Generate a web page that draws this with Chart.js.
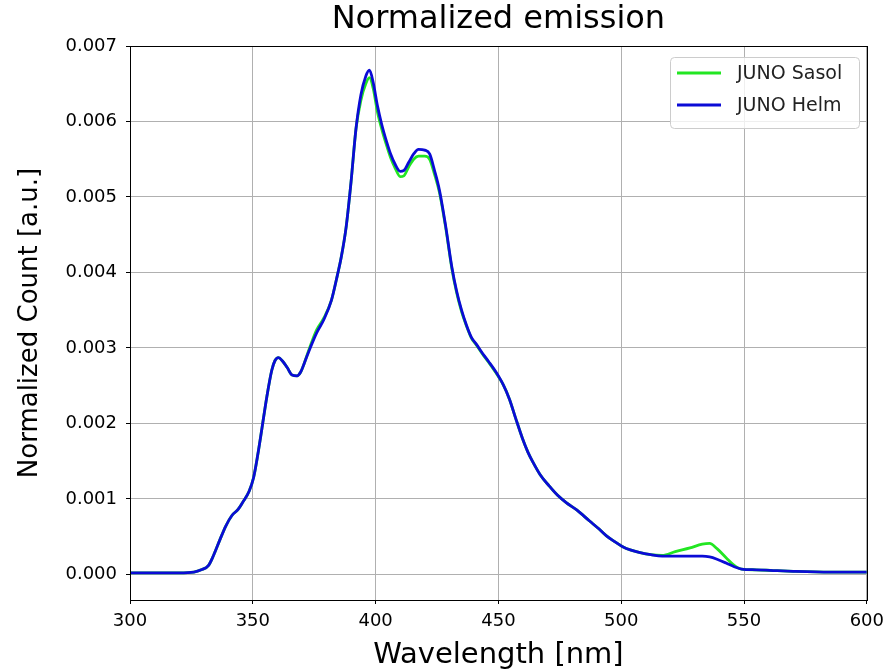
<!DOCTYPE html>
<html>
<head>
<meta charset="utf-8">
<script src="https://cdn.jsdelivr.net/npm/chart.js@4"></script>
<style>
  body { margin: 0; background: #fff; }
  #wrap { width: 891px; height: 670px; }
</style>
</head>
<body>
<div id="wrap"><canvas id="emissionChart" width="891" height="670"></canvas></div>
<script>
// wavelength in nm
const wavelength = [
  300, 310, 320, 326, 329, 332, 334, 336.5, 339, 341.5,
  344, 346, 348.5, 350.3, 352, 353.7, 355.7, 357.7, 359, 360.5,
  362, 364, 366, 368, 369.5, 371, 373, 376, 379, 382,
  384, 386, 388, 390, 392, 394, 396, 397.5, 399, 400.8,
  402.5, 404.5, 406, 408, 410, 411.5, 413.5, 415.5, 417.5, 420,
  422, 424, 426, 428.5, 431, 433, 435, 437, 439, 441,
  443.5, 446, 449, 452, 454.5, 457, 459.8, 462, 464, 467,
  470.7, 474, 477.6, 482, 487, 491, 494, 497, 500.4, 504,
  507.3, 512, 516.7, 522, 528, 533, 536, 539, 542.7, 546,
  549, 555, 562, 570, 585, 600
];

const sasol = [
  0.00002, 0.00002, 0.00002, 0.00003, 0.00006, 0.00012, 0.00025, 0.00045, 0.00064, 0.00078,
  0.00086, 0.00096, 0.0011, 0.00128, 0.00158, 0.00193, 0.00235, 0.0027, 0.00283, 0.00287,
  0.00283, 0.00274, 0.00264, 0.00263, 0.00268, 0.0028, 0.00299, 0.00324, 0.0034, 0.00363,
  0.0039, 0.0042, 0.0046, 0.0052, 0.0059, 0.00628, 0.0065, 0.00658, 0.00644, 0.00612,
  0.0059, 0.00568, 0.00553, 0.00538, 0.00527, 0.00528, 0.0054, 0.0055, 0.00554, 0.00554,
  0.0055, 0.0053, 0.00506, 0.0046, 0.00406, 0.00373, 0.00348, 0.00329, 0.00313, 0.00304,
  0.00292, 0.00281, 0.00267, 0.00251, 0.00232, 0.00207, 0.0018, 0.00162, 0.00149, 0.00132,
  0.00117, 0.00105, 0.00095, 0.00085, 0.00071, 0.0006, 0.00051, 0.00044, 0.00037, 0.00032,
  0.00029, 0.00026, 0.00025, 0.0003, 0.00035, 0.0004, 0.00041, 0.00034, 0.00022, 0.00012,
  0.00007, 0.00006, 0.00005, 0.00004, 0.00003, 0.00003
];

const helm = [
  0.00002, 0.00002, 0.00002, 0.00003, 0.00006, 0.00012, 0.00025, 0.00045, 0.00064, 0.00078,
  0.00086, 0.00096, 0.0011, 0.00128, 0.00158, 0.00193, 0.00235, 0.0027, 0.00283, 0.00287,
  0.00283, 0.00274, 0.00264, 0.00263, 0.00268, 0.0028, 0.00297, 0.0032, 0.00338, 0.00363,
  0.0039, 0.0042, 0.0046, 0.0052, 0.0059, 0.00635, 0.0066, 0.00668, 0.00652, 0.0062,
  0.00596, 0.00573, 0.00558, 0.00543, 0.00534, 0.00535, 0.00546, 0.00557, 0.00563, 0.00562,
  0.00557, 0.00535, 0.00509, 0.00462, 0.00408, 0.00375, 0.0035, 0.0033, 0.00314, 0.00305,
  0.00293, 0.00282, 0.00268, 0.00251, 0.00232, 0.00207, 0.0018, 0.00162, 0.00149, 0.00132,
  0.00117, 0.00105, 0.00095, 0.00085, 0.00071, 0.0006, 0.00051, 0.00044, 0.00037, 0.00032,
  0.00029, 0.00026, 0.00024, 0.00024, 0.00024, 0.00024, 0.00023, 0.0002, 0.00015, 0.0001,
  0.00007, 0.00006, 0.00005, 0.00004, 0.00003, 0.00003
];

const xTicks = [300, 350, 400, 450, 500, 550, 600];
const yTicks = [0, 0.001, 0.002, 0.003, 0.004, 0.005, 0.006, 0.007];

const chartTitle = "Normalized emission";
const seriesNames = ["JUNO Sasol", "JUNO Helm"];
const seriesColors = ["#22e622", "#0b0bd6"];

const FONT = "'DejaVu Sans', sans-serif";

const toPoints = ys => wavelength.map((x, i) => ({ x: x, y: ys[i] }));

// title over plot area, frame on all four sides, matplotlib style legend box
const framePlugin = {
  id: "frame",
  afterDraw(chart) {
    const { ctx, chartArea: a } = chart;
    ctx.save();
    ctx.strokeStyle = "#000";
    ctx.lineWidth = 1;
    ctx.strokeRect(Math.round(a.left) + 0.5, Math.round(a.top) + 0.5,
      Math.round(a.right - a.left), Math.round(a.bottom - a.top));

    ctx.fillStyle = "#000";
    ctx.font = "32px " + FONT;
    ctx.textAlign = "center";
    ctx.textBaseline = "middle";
    ctx.fillText(chartTitle, (a.left + a.right) / 2, 20);

    // legend
    const bx = 670, by = 57, bw = 189, bh = 71, r = 4;
    ctx.globalAlpha = 0.8;
    ctx.fillStyle = "#fff";
    ctx.beginPath();
    ctx.roundRect(bx + 0.5, by + 0.5, bw, bh, r);
    ctx.fill();
    ctx.globalAlpha = 1;
    ctx.strokeStyle = "#cccccc";
    ctx.stroke();

    ctx.font = "19px " + FONT;
    ctx.textAlign = "left";
    seriesNames.forEach((name, i) => {
      const y = by + 16 + i * 32;
      ctx.strokeStyle = seriesColors[i];
      ctx.lineWidth = 3;
      ctx.beginPath();
      ctx.moveTo(bx + 7, y);
      ctx.lineTo(bx + 51, y);
      ctx.stroke();
      ctx.fillStyle = "#222";
      ctx.fillText(name, bx + 67, y + 1);
    });
    ctx.restore();
  }
};

document.addEventListener("DOMContentLoaded", () => {
  const ctx = document.getElementById("emissionChart").getContext("2d");
  new Chart(ctx, {
    type: "line",
    data: {
      datasets: [
        {
          label: seriesNames[0],
          data: toPoints(sasol),
          borderColor: seriesColors[0],
          borderWidth: 2.8,
          pointRadius: 0,
          cubicInterpolationMode: "monotone",
          order: 1
        },
        {
          label: seriesNames[1],
          data: toPoints(helm),
          borderColor: seriesColors[1],
          borderWidth: 2.8,
          pointRadius: 0,
          cubicInterpolationMode: "monotone",
          order: 0
        }
      ]
    },
    options: {
      responsive: false,
      animation: false,
      layout: { padding: { left: 0, right: 23, top: 46, bottom: 0 } },
      plugins: {
        legend: { display: false },
        tooltip: { enabled: false },
        title: { display: false }
      },
      scales: {
        x: {
          type: "linear",
          min: 300,
          max: 600,
          afterBuildTicks: axis => { axis.ticks = xTicks.map(v => ({ value: v })); },
          afterFit: axis => { axis.height = 70; },
          grid: { color: "#b0b0b0", lineWidth: 1, tickColor: "#000", tickLength: 4 },
          border: { color: "#000", width: 1 },
          ticks: {
            color: "#000",
            padding: 7,
            maxRotation: 0,
            font: { family: FONT, size: 18 }
          },
          title: {
            display: true,
            text: "Wavelength [nm]",
            color: "#000",
            font: { family: FONT, size: 29, lineHeight: 1 },
            padding: { top: 0, bottom: 0 }
          }
        },
        y: {
          type: "linear",
          min: -0.00034,
          max: 0.007,
          afterBuildTicks: axis => { axis.ticks = yTicks.map(v => ({ value: v })); },
          afterFit: axis => { axis.width = 130; },
          grid: { color: "#b0b0b0", lineWidth: 1, tickColor: "#000", tickLength: 4 },
          border: { color: "#000", width: 1 },
          ticks: {
            color: "#000",
            padding: 9,
            font: { family: FONT, size: 18 },
            callback: v => v.toFixed(3)
          },
          title: {
            display: true,
            text: "Normalized Count [a.u.]",
            color: "#000",
            font: { family: FONT, size: 26, lineHeight: 1 },
            padding: { top: 17, bottom: 0 }
          }
        }
      }
    },
    plugins: [framePlugin]
  });
});
</script>
</body>
</html>
